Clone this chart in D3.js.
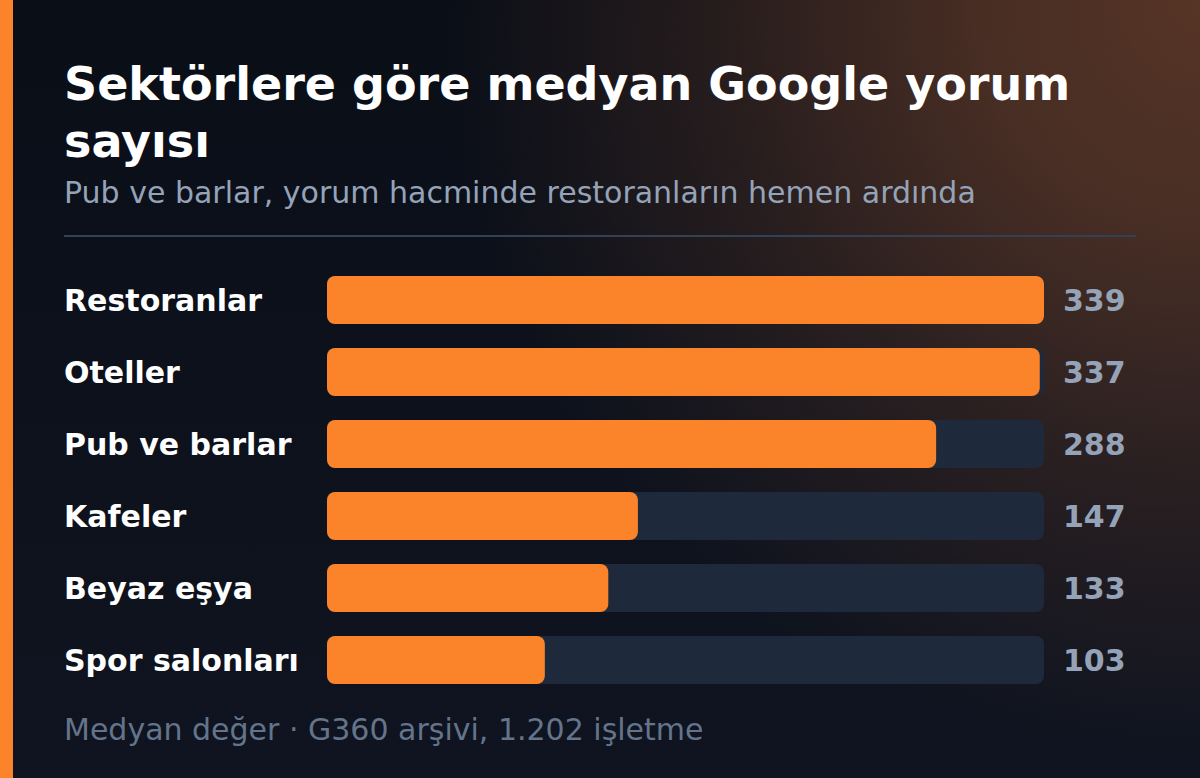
<!DOCTYPE html>
<html>
<head>
<meta charset="utf-8">
<script src="https://cdn.jsdelivr.net/npm/d3@7"></script>
<style>
  html, body { margin: 0; padding: 0; background: #0b0f17; }
  svg { display: block; }
</style>
</head>
<body>
<script>
var w = 1200;
var h = 778;

var categories = ["Restoranlar", "Oteller", "Pub ve barlar", "Kafeler", "Beyaz eşya", "Spor salonları"];
var values = [339, 337, 288, 147, 133, 103];

var titleLines = ["Sektörlere göre medyan Google yorum", "sayısı"];
var subtitle = "Pub ve barlar, yorum hacminde restoranların hemen ardında";
var footer = "Medyan değer · G360 arşivi, 1.202 işletme";

var font = "'DejaVu Sans', sans-serif";

var svg = d3.select("body").append("svg").attr("width", w).attr("height", h);
var defs = svg.append("defs");

// background: dark base + warm glow top right
var base = defs.append("linearGradient").attr("id", "bg")
  .attr("x1", 0).attr("y1", 0).attr("x2", 0).attr("y2", 1);
base.append("stop").attr("offset", "0%").attr("stop-color", "#0a0e17");
base.append("stop").attr("offset", "100%").attr("stop-color", "#0f1420");

var glow = defs.append("radialGradient").attr("id", "glow")
  .attr("gradientUnits", "userSpaceOnUse")
  .attr("cx", 1200).attr("cy", 0).attr("r", 760);
glow.append("stop").attr("offset", "0%").attr("stop-color", "#c86e3c").attr("stop-opacity", 0.4);
glow.append("stop").attr("offset", "30%").attr("stop-color", "#c86e3c").attr("stop-opacity", 0.32);
glow.append("stop").attr("offset", "65%").attr("stop-color", "#c86e3c").attr("stop-opacity", 0.14);
glow.append("stop").attr("offset", "100%").attr("stop-color", "#c86e3c").attr("stop-opacity", 0);

svg.append("rect").attr("width", w).attr("height", h).attr("fill", "url(#bg)");
svg.append("rect").attr("width", w).attr("height", h).attr("fill", "url(#glow)");

// left accent strip
svg.append("rect").attr("x", 0).attr("y", 0).attr("width", 13).attr("height", h).attr("fill", "#fb8329");

// title
svg.selectAll("text.title")
  .data(titleLines)
  .enter()
  .append("text")
  .attr("class", "title")
  .attr("x", 64)
  .attr("y", function (d, i) { return 100 + i * 57; })
  .attr("font-family", font)
  .attr("font-weight", "bold")
  .attr("font-size", "46px")
  .attr("fill", "#ffffff")
  .text(function (d) { return d; });

svg.append("text")
  .attr("x", 64)
  .attr("y", 203)
  .attr("font-family", font)
  .attr("font-size", "30px")
  .attr("fill", "#94a3b8")
  .text(subtitle);

svg.append("rect")
  .attr("x", 64).attr("y", 235)
  .attr("width", 1072).attr("height", 2)
  .attr("fill", "#334155");

// bars: band 48, step 72
var x = d3.scaleLinear().domain([0, d3.max(values)]).range([327, 1044]);
var y = d3.scaleBand().domain(categories).range([276, 684]).paddingInner(1 / 3).paddingOuter(0);

var rows = svg.selectAll("g.row")
  .data(categories)
  .enter()
  .append("g")
  .attr("class", "row")
  .attr("transform", function (d) { return "translate(0," + y(d) + ")"; });

rows.append("rect")
  .attr("x", x(0))
  .attr("width", x.range()[1] - x(0))
  .attr("height", y.bandwidth())
  .attr("rx", 8)
  .attr("fill", "#1e293b");

rows.append("rect")
  .attr("x", x(0))
  .attr("width", function (d, i) { return x(values[i]) - x(0); })
  .attr("height", y.bandwidth())
  .attr("rx", 8)
  .attr("fill", "#fb8329");

rows.append("text")
  .attr("x", 64)
  .attr("y", y.bandwidth() / 2)
  .attr("dy", "0.35em")
  .attr("font-family", font)
  .attr("font-weight", "bold")
  .attr("font-size", "30px")
  .attr("fill", "#ffffff")
  .text(function (d) { return d; });

rows.append("text")
  .attr("x", 1063)
  .attr("y", y.bandwidth() / 2)
  .attr("dy", "0.35em")
  .attr("font-family", font)
  .attr("font-weight", "bold")
  .attr("font-size", "30px")
  .attr("fill", "#94a3b8")
  .text(function (d, i) { return values[i]; });

svg.append("text")
  .attr("x", 64)
  .attr("y", 740)
  .attr("font-family", font)
  .attr("font-size", "30px")
  .attr("fill", "#64748b")
  .text(footer);
</script>
</body>
</html>
